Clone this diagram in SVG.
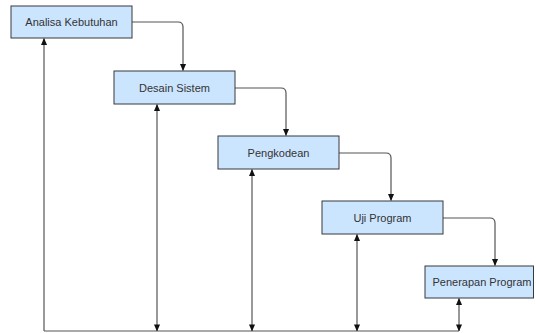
<svg xmlns="http://www.w3.org/2000/svg" width="536" height="333" viewBox="0 0 536 333">
<defs>
<style>
.box{fill:#cce5ff;stroke:#36393d;stroke-width:1}
.lbl{font-family:"Liberation Sans",Arial,sans-serif;font-size:11px;fill:#333333;text-anchor:middle;dominant-baseline:central}
.edge{fill:none;stroke:#555555;stroke-width:1.2}
</style>
<marker id="ah" viewBox="0 0 8 8" refX="7.5" refY="4" markerWidth="7" markerHeight="7" markerUnits="userSpaceOnUse" orient="auto-start-reverse">
<path d="M0,0.5 L8,4 L0,7.5 Z" fill="#111111"/>
</marker>
</defs>
<rect width="536" height="333" fill="#ffffff"/>
<g id="connectors">
<path class="edge" d="M132,22 H178 Q183,22 183,27 V70.5" marker-end="url(#ah)"/>
<path class="edge" d="M235,88 H281 Q286,88 286,93 V135.5" marker-end="url(#ah)"/>
<path class="edge" d="M339,153 H386 Q391,153 391,158 V200.5" marker-end="url(#ah)"/>
<path class="edge" d="M443,218 H490 Q495,218 495,223 V265.5" marker-end="url(#ah)"/>
<path class="edge" d="M44,331 V38.5" marker-end="url(#ah)"/>
<path class="edge" d="M44,331 H459"/>
<path class="edge" d="M157,104.5 V331" marker-start="url(#ah)" marker-end="url(#ah)"/>
<path class="edge" d="M252,169.5 V331" marker-start="url(#ah)" marker-end="url(#ah)"/>
<path class="edge" d="M357,234.5 V331" marker-start="url(#ah)" marker-end="url(#ah)"/>
<path class="edge" d="M459,298.5 V331" marker-start="url(#ah)" marker-end="url(#ah)"/>
</g>
<g id="analisa">
<rect class="box" x="11" y="6" width="121" height="32"/>
<text class="lbl" x="71.5" y="22">Analisa Kebutuhan</text>
</g>
<g id="desain">
<rect class="box" x="114" y="71" width="121" height="33"/>
<text class="lbl" x="174.5" y="87.5">Desain Sistem</text>
</g>
<g id="pengkodean">
<rect class="box" x="218" y="136" width="121" height="33"/>
<text class="lbl" x="278.5" y="152.5">Pengkodean</text>
</g>
<g id="uji">
<rect class="box" x="322" y="201" width="121" height="33"/>
<text class="lbl" x="382.5" y="217.5">Uji Program</text>
</g>
<g id="penerapan">
<rect class="box" x="425" y="266" width="108.5" height="32"/>
<text class="lbl" x="482" y="282">Penerapan Program</text>
</g>
</svg>
